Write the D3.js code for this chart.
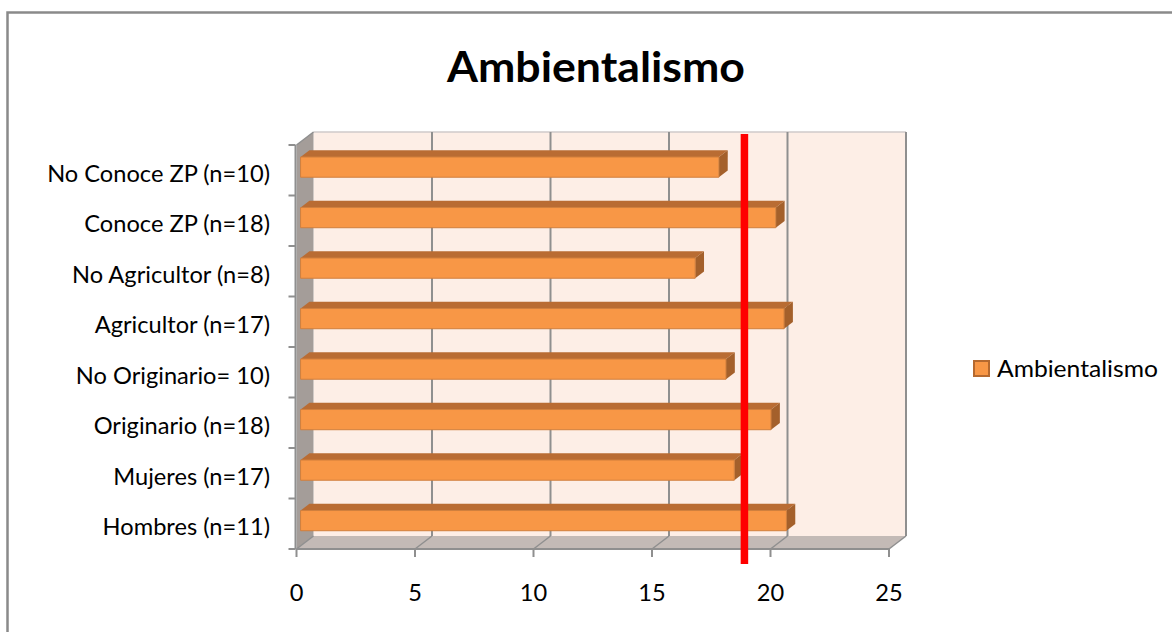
<!DOCTYPE html>
<html><head><meta charset="utf-8">
<script src="https://cdn.jsdelivr.net/npm/d3@7"></script>
<style>body{margin:0;background:#fff} svg{display:block}</style>
</head><body>
<svg id="chart" width="1172" height="632"></svg>
<script>
// Data: categories listed bottom to top, one value per category
const categories = ["Hombres (n=11)", "Mujeres (n=17)", "Originario (n=18)", "No Originario= 10)",
                    "Agricultor (n=17)", "No Agricultor (n=8)", "Conoce ZP (n=18)", "No Conoce ZP (n=10)"];
const values = [20.5, 18.3, 19.85, 17.95, 20.4, 16.65, 20.05, 17.65];
const xTicks = [0, 5, 10, 15, 20, 25];
const seriesName = "Ambientalismo";
const chartTitle = "Ambientalismo";
const referenceValue = 18.9;

const svg = d3.select("#chart");
const FONT = "Lato, 'Open Sans', sans-serif";

// outer frame of the chart area
svg.append("rect").attr("x", 7.5).attr("y", 12.5).attr("width", 1300).attr("height", 800)
  .attr("fill", "none").attr("stroke", "#8a8a8a").attr("stroke-width", 2.5);

const x = d3.scaleLinear().domain([0, 25]).range([296.5, 889]);
const y = d3.scaleBand().domain(categories.slice().reverse()).range([145, 549]);
const bw = y.bandwidth();
const yTop = y.range()[0], yBot = y.range()[1];

// oblique projection for the 3D box: z = 0 front plane, z = 1 back wall
const DX = 17, DY = 13;
const z0 = 0.24, z1 = 0.76;          // bar depth span
const P = (v, py, z) => [x(v) + z * DX, py - z * DY];
const poly = pts => pts.map(p => p.join(",")).join(" ");
const GRID = "#8f8f8f";

// walls
svg.append("polygon").attr("points", poly([P(0, yTop, 1), P(25, yTop, 1), P(25, yBot, 1), P(0, yBot, 1)]))
  .attr("fill", "#fdeee6");
svg.append("polygon").attr("points", poly([P(0, yTop, 0), P(0, yTop, 1), P(0, yBot, 1), P(0, yBot, 0)]))
  .attr("fill", "#a49d99");
svg.append("polygon").attr("points", poly([P(0, yBot, 0), P(0, yBot, 1), P(25, yBot, 1), P(25, yBot, 0)]))
  .attr("fill", "#c3bab6");

const line = (a, b, color, w) => svg.append("line")
  .attr("x1", a[0]).attr("y1", a[1]).attr("x2", b[0]).attr("y2", b[1])
  .attr("stroke", color).attr("stroke-width", w);

// back wall top edge
line(P(0, yTop, 1), P(25, yTop, 1), "#cfcaca", 1.5);
// vertical gridlines, floor diagonals and x ticks
xTicks.forEach(t => {
  if (t > 0) line(P(t, yTop, 1), P(t, yBot, 1), GRID, 2);
  line(P(t, yBot, 1), P(t, yBot, 0), GRID, 1.5);
  const f = P(t, yBot, 0);
  line(f, [f[0], f[1] + 8], GRID, 2);
});
// left wall edges and floor front edge
line(P(0, yTop, 0), P(0, yTop, 1), GRID, 1.5);
line([x(0) - 1, yTop], [x(0) - 1, yBot], GRID, 2);
line(P(0, yBot, 0), P(25, yBot, 0), GRID, 2);
// category ticks
const bounds = categories.map(c => y(c)).concat([yBot]);
bounds.forEach(b => line([x(0) - 8, b], [x(0) - 1, b], GRID, 2));

// bars
const bars = svg.append("g");
categories.forEach((c, i) => {
  const v = values[i];
  const yc = y(c) + bw / 2, h = bw / 2.5;
  const t = yc - h / 2, b = yc + h / 2;
  bars.append("polygon").attr("points", poly([P(0, t, z0), P(v, t, z0), P(v, t, z1), P(0, t, z1)]))
    .attr("fill", "#b96c33");
  bars.append("polygon").attr("points", poly([P(v, t, z0), P(v, t, z1), P(v, b, z1), P(v, b, z0)]))
    .attr("fill", "#a4602b");
  bars.append("polygon").attr("points", poly([P(0, t, z0), P(v, t, z0), P(v, b, z0), P(0, b, z0)]))
    .attr("fill", "#f89746").attr("stroke", "#d07f3d").attr("stroke-width", 1);
});

// reference line
svg.append("line").attr("x1", x(referenceValue)).attr("x2", x(referenceValue))
  .attr("y1", 134).attr("y2", 564).attr("stroke", "#ff0000").attr("stroke-width", 7.5);

// text helpers: horizontal fit so widths follow the original typeface
function measure(str, size, weight) {
  const tmp = svg.append("text").attr("font-family", FONT).attr("font-size", size)
    .attr("font-weight", weight).text(str);
  const w = tmp.node().getComputedTextLength();
  tmp.remove();
  return w;
}
const SMALL = 24;
const kSmall = 223 / measure("No Conoce ZP (n=10)", SMALL, 400);
const kLegend = 161 / measure(seriesName, SMALL, 400);
const TITLE = 42;
const kTitle = 298 / measure(chartTitle, TITLE, 700);

function label(str, tx, ty, anchor, size, weight, k) {
  svg.append("text").attr("transform", `translate(${tx},${ty}) scale(${k},1)`)
    .attr("font-family", FONT).attr("font-size", size).attr("font-weight", weight)
    .attr("text-anchor", anchor).attr("fill", "#000").text(str);
}

categories.forEach(c => label(c, 270, y(c) + bw / 2 + 11.5, "end", SMALL, 400, kSmall));
xTicks.forEach(t => label(String(t), x(t), 601, "middle", SMALL, 400, kSmall));

// title
label(chartTitle, 596, 82, "middle", TITLE, 700, kTitle);

// legend
svg.append("rect").attr("x", 974).attr("y", 361).attr("width", 15).attr("height", 15)
  .attr("fill", "#f89746").attr("stroke", "#b5692f").attr("stroke-width", 2);
label(seriesName, 997, 377, "start", SMALL, 400, kLegend);
</script>
</body></html>
